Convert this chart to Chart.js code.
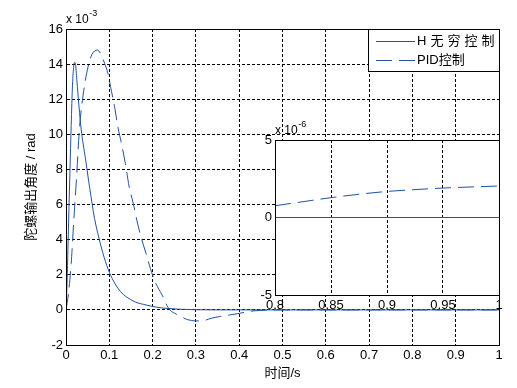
<!DOCTYPE html>
<html>
<head>
<meta charset="utf-8">
<script src="https://cdn.jsdelivr.net/npm/chart.js@4.4.0/dist/chart.umd.min.js"></script>
<style>
    html, body { margin: 0; padding: 0; background: #fff; }
    #wrap { position: relative; width: 517px; height: 388px; overflow: hidden; }
    #mainChart { position: absolute; left: 0; top: 0; }
    #insetChart { position: absolute; left: 240px; top: 110px; }
</style>
</head>
<body>
<div id="wrap">
    <canvas id="mainChart" width="517" height="388"></canvas>
    <canvas id="insetChart" width="277" height="215"></canvas>
</div>
<script>
/*  Data: main plot in units of 1e-3 rad, inset in units of 1e-6 rad  */
const seriesLabels = ["H无穷控制", "PID控制"];

const hTime = [0, 0.002, 0.004, 0.006, 0.009, 0.012, 0.015, 0.018, 0.02, 0.022, 0.025, 0.03, 0.035,
    0.045, 0.055, 0.066, 0.076, 0.088, 0.1, 0.113, 0.126, 0.139, 0.16, 0.185, 0.21, 0.231, 0.26, 0.3, 0.35, 1.0];
const hValue = [0, 1.2, 3.0, 5.0, 7.8, 10.5, 12.8, 13.9, 14.1, 14.0, 13.1, 11.6, 10.3,
    8.6, 6.9, 5.2, 4.1, 3.0, 2.15, 1.5, 1.04, 0.75, 0.45, 0.28, 0.15, 0.09, 0.04, 0.01, 0, 0];

const pidTime = [0, 0.006, 0.012, 0.018, 0.024, 0.031, 0.041, 0.051, 0.06, 0.072, 0.08, 0.089, 0.097,
    0.105, 0.112, 0.12, 0.127, 0.137, 0.146, 0.155, 0.165, 0.175, 0.185, 0.195, 0.205, 0.215, 0.223,
    0.231, 0.24, 0.255, 0.266, 0.28, 0.3, 0.32, 0.335, 0.355, 0.377, 0.4, 0.425, 0.45, 0.5, 1.0];
const pidValue = [0, 1.0, 2.65, 5.1, 7.4, 10.3, 12.5, 13.85, 14.55, 14.8, 14.6, 14.05, 13.45,
    12.45, 11.6, 10.4, 9.6, 8.35, 7.0, 6.1, 4.95, 4.0, 3.2, 2.35, 1.65, 1.15, 0.8,
    0.35, 0, -0.25, -0.39, -0.55, -0.63, -0.6, -0.48, -0.38, -0.29, -0.2, -0.08, -0.03, 0, 0];

const insetTime = [0.8, 0.825, 0.85, 0.875, 0.9, 0.925, 0.95, 0.975, 1.0];
const insetH = [0, 0, 0, 0, 0, 0, 0, 0, 0];
const insetPid = [0.76, 1.02, 1.28, 1.5, 1.68, 1.8, 1.9, 1.97, 2.03];

const mainXTicks = [0, 1, 0.1];      // min, max, step
const mainYTicks = [-2, 16, 2];
const insetXTicks = [0.8, 1, 0.05];
const insetYTicks = [-5, 5, 5];

/*  Styles  */
const blue = "#2152a3";
const latin = "'Liberation Sans', Arial, 'Noto Sans CJK SC', sans-serif";
const tickFont = { family: latin, size: 13 };
const titleFont = { family: latin, size: 13 };
const legendSpacing = [4, 0];  // px between glyphs, per legend entry

function toPoints(xs, ys) {
    return xs.map((x, i) => ({ x, y: ys[i] }));
}

function fmt(v) {
    return String(+v.toFixed(3));
}

function lineSet(label, data, dashed) {
    return {
        label,
        data,
        borderColor: blue,
        borderWidth: 1,
        borderDash: dashed ? [16, 7] : [],
        pointRadius: 0,
        fill: false,
        cubicInterpolationMode: "monotone"
    };
}

function axis(range, extra) {
    return Object.assign({
        type: "linear",
        min: range[0],
        max: range[1],
        ticks: { stepSize: range[2], autoSkip: false, maxRotation: 0, color: "#000", font: tickFont, callback: fmt },
        grid: { color: "#000", lineWidth: 1, drawTicks: false },
        border: { display: true, color: "#000", dash: [3, 2] }
    }, extra);
}

/*  Box, white background and "x 10^n" label, MATLAB style  */
const boxPlugin = {
    id: "box",
    beforeDraw(chart, args, opts) {
        const a = chart.chartArea;
        const ctx = chart.ctx;
        ctx.save();
        ctx.fillStyle = "#fff";
        ctx.fillRect(a.left, a.top, a.right - a.left, a.bottom - a.top);
        ctx.restore();
    },
    afterDraw(chart, args, opts) {
        const a = chart.chartArea;
        const ctx = chart.ctx;
        ctx.save();
        ctx.strokeStyle = "#000";
        ctx.lineWidth = 1;
        ctx.setLineDash([]);
        ctx.strokeRect(Math.round(a.left) + 0.5, Math.round(a.top) + 0.5,
            Math.round(a.right - a.left), Math.round(a.bottom - a.top));

        ctx.fillStyle = "#000";
        ctx.textBaseline = "alphabetic";
        ctx.font = "12px " + latin;
        const base = "x 10";
        ctx.fillText(base, opts.x, opts.y);
        const w = ctx.measureText(base).width;
        ctx.font = "9px " + latin;
        ctx.fillText(opts.exp, opts.x + w + 0.5, opts.y - 7);
        ctx.restore();
    }
};

const legendPlugin = {
    id: "boxLegend",
    afterDraw(chart) {
        const ctx = chart.ctx;
        ctx.save();
        ctx.fillStyle = "#fff";
        ctx.fillRect(368.5, 29.5, 131, 42);
        ctx.strokeStyle = "#000";
        ctx.lineWidth = 1;
        ctx.strokeRect(368.5, 29.5, 131, 42);
        chart.data.datasets.forEach((ds, i) => {
            const y = 41.5 + i * 19;
            ctx.strokeStyle = ds.borderColor;
            ctx.setLineDash(ds.borderDash);
            ctx.beginPath();
            ctx.moveTo(376, y);
            ctx.lineTo(415, y);
            ctx.stroke();
            ctx.setLineDash([]);
            ctx.fillStyle = "#000";
            ctx.font = "13px " + latin;
            ctx.textBaseline = "middle";
            ctx.letterSpacing = legendSpacing[i] + "px";
            ctx.fillText(ds.label, 417, y);
            ctx.letterSpacing = "0px";
        });
        ctx.restore();
    }
};

/*  Main chart  */
new Chart(document.getElementById("mainChart"), {
    type: "line",
    data: {
        datasets: [
            lineSet(seriesLabels[0], toPoints(hTime, hValue), false),
            lineSet(seriesLabels[1], toPoints(pidTime, pidValue), true)
        ]
    },
    options: {
        responsive: false,
        animation: false,
        devicePixelRatio: 1,
        layout: { padding: { top: 29, right: 18, left: 0, bottom: 0 } },
        plugins: {
            legend: { display: false },
            tooltip: { enabled: false },
            box: { x: 66, y: 22.5, exp: "-3" }
        },
        scales: {
            x: axis(mainXTicks, {
                afterFit: s => { s.height = 43; },
                title: { display: true, text: "时间/s", color: "#000", font: titleFont, padding: { top: 0, bottom: 7 } }
            }),
            y: axis(mainYTicks, {
                afterFit: s => { s.width = 66; },
                title: { display: true, text: "陀螺输出角度 / rad", color: "#000", font: titleFont, padding: { top: 24, bottom: 0 } }
            })
        }
    },
    plugins: [boxPlugin, legendPlugin]
});

/*  Inset chart (zoom of 0.8 - 1 s)  */
new Chart(document.getElementById("insetChart"), {
    type: "line",
    data: {
        datasets: [
            lineSet(seriesLabels[0], toPoints(insetTime, insetH), false),
            lineSet(seriesLabels[1], toPoints(insetTime, insetPid), true)
        ]
    },
    options: {
        responsive: false,
        animation: false,
        devicePixelRatio: 1,
        layout: { padding: { top: 30, right: 18, left: 0, bottom: 0 } },
        plugins: {
            legend: { display: false },
            tooltip: { enabled: false },
            box: { x: 35, y: 24, exp: "-6" }
        },
        scales: {
            x: axis(insetXTicks, { afterFit: s => { s.height = 30; } }),
            y: axis(insetYTicks, { afterFit: s => { s.width = 35; } })
        }
    },
    plugins: [boxPlugin]
});
</script>
</body>
</html>
